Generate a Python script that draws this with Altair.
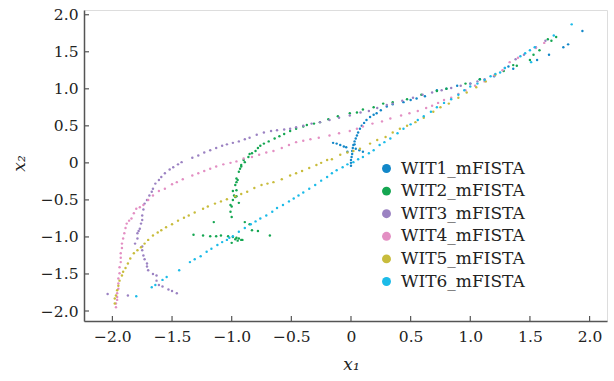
import altair as alt
import pandas as pd

SERIES = ["WIT1_mFISTA", "WIT2_mFISTA", "WIT3_mFISTA", "WIT4_mFISTA", "WIT5_mFISTA", "WIT6_mFISTA"]
COLORS = ["#1287c8", "#14a651", "#9b82c2", "#e38fc3", "#c8bc3c", "#1cbbe8"]

WIT1 = [(0.0, -0.04), (0.0, 0.0), (0.0, 0.04), (0.005, 0.08), (0.01, 0.12), (0.01, 0.16),
        (0.015, 0.2), (0.02, 0.24), (0.03, 0.29), (0.04, 0.33), (0.05, 0.37), (0.06, 0.41),
        (0.075, 0.46), (0.09, 0.5), (0.11, 0.54), (0.13, 0.58), (0.16, 0.62), (0.19, 0.65),
        (0.215, 0.67), (0.25, 0.71), (0.3, 0.76), (0.35, 0.79), (0.44, 0.82), (0.5, 0.85),
        (0.55, 0.87), (0.62, 0.9), (0.72, 0.98), (0.8, 1.0), (0.89, 1.04), (1.0, 1.07),
        (1.08, 1.13), (1.2, 1.17), (1.32, 1.3), (1.36, 1.27), (1.56, 1.39), (1.66, 1.46),
        (1.78, 1.56), (1.82, 1.6), (1.94, 1.78),
        (-0.15, 0.27), (-0.12, 0.26), (-0.09, 0.24), (-0.06, 0.22), (-0.04, 0.21),
        (0.04, 0.19), (0.07, 0.17), (0.1, 0.15), (-0.03, 0.15), (0.03, 0.25)]

WIT2 = [(-1.32, -0.97), (-1.24, -0.98), (-1.18, -0.99), (-1.13, -0.99), (-1.09, -0.98),
        (-1.03, -0.99), (-0.99, -1.0), (-0.96, -1.01), (-0.94, -1.02), (-0.92, -1.04),
        (-0.97, -1.03), (-0.95, -1.05), (-1.0, -1.08), (-0.91, -1.04), (-0.83, -0.91),
        (-0.78, -0.92), (-0.68, -0.98), (-0.89, -0.8), (-0.85, -0.83), (-1.15, -0.8),
        (-1.0, -0.73), (-1.01, -0.66), (-1.0, -0.59), (-1.01, -0.57), (-0.94, -0.54),
        (-0.99, -0.5), (-0.97, -0.46), (-0.98, -0.44), (-0.96, -0.45), (-0.99, -0.38),
        (-0.96, -0.37), (-0.97, -0.3), (-0.96, -0.26), (-0.95, -0.23), (-0.96, -0.21),
        (-0.94, -0.12), (-0.93, -0.08), (-0.92, -0.05), (-0.92, -0.03), (-0.89, 0.01),
        (-0.9, 0.04), (-0.86, 0.08), (-0.85, 0.12), (-0.83, 0.13), (-0.8, 0.16),
        (-0.78, 0.2), (-0.76, 0.23), (-0.73, 0.26), (-0.69, 0.29), (-0.64, 0.33),
        (-0.6, 0.36), (-0.56, 0.39), (-0.51, 0.43), (-0.46, 0.46), (-0.4, 0.49),
        (-0.37, 0.51), (-0.31, 0.53), (-0.26, 0.55), (-0.19, 0.59), (-0.11, 0.63),
        (-0.01, 0.67), (0.05, 0.68), (0.1, 0.72), (0.19, 0.75), (0.27, 0.8), (0.35, 0.82),
        (0.47, 0.86), (0.59, 0.92), (0.72, 0.97), (0.8, 1.0), (0.96, 1.07), (1.08, 1.13),
        (1.28, 1.24), (1.36, 1.32), (1.39, 1.31), (1.5, 1.39), (1.53, 1.46), (1.58, 1.52),
        (1.65, 1.67), (1.68, 1.65), (1.72, 1.7)]

WIT3 = [(-2.04, -1.77), (-1.87, -1.79), (-1.46, -1.76), (-1.5, -1.73), (-1.53, -1.71),
        (-1.58, -1.67), (-1.61, -1.65), (-1.63, -1.59), (-1.63, -1.52), (-1.66, -1.5),
        (-1.7, -1.45), (-1.71, -1.4), (-1.71, -1.36), (-1.73, -1.3), (-1.74, -1.25),
        (-1.75, -1.18), (-1.75, -1.13), (-1.81, -1.09), (-1.79, -1.02), (-1.79, -0.95),
        (-1.78, -0.92), (-1.77, -0.89), (-1.76, -0.82), (-1.75, -0.77), (-1.75, -0.71),
        (-1.74, -0.63), (-1.73, -0.55), (-1.71, -0.5), (-1.69, -0.44), (-1.67, -0.39),
        (-1.66, -0.35), (-1.64, -0.28), (-1.61, -0.23), (-1.59, -0.19), (-1.56, -0.14),
        (-1.52, -0.09), (-1.49, -0.06), (-1.45, -0.02), (-1.42, 0.01), (-1.33, 0.07),
        (-1.28, 0.1), (-1.23, 0.14), (-1.18, 0.17), (-1.13, 0.2), (-1.08, 0.23),
        (-1.04, 0.25), (-0.99, 0.27), (-0.94, 0.29), (-0.89, 0.32), (-0.85, 0.34),
        (-0.79, 0.38), (-0.73, 0.41), (-0.67, 0.43), (-0.62, 0.44), (-0.56, 0.45),
        (-0.51, 0.46), (-0.46, 0.48), (-0.4, 0.5), (-0.33, 0.53), (-0.26, 0.55),
        (-0.18, 0.58), (-0.1, 0.61), (-0.01, 0.64), (0.08, 0.68), (0.15, 0.7),
        (0.22, 0.74), (0.3, 0.78), (0.35, 0.8), (0.43, 0.84), (0.52, 0.88), (0.6, 0.92),
        (0.68, 0.95), (0.76, 0.98), (0.84, 1.01), (0.92, 1.04), (1.0, 1.07), (1.06, 1.1),
        (1.12, 1.13), (1.29, 1.28), (1.38, 1.4), (1.45, 1.46), (1.55, 1.56), (1.63, 1.65)]

WIT4 = [(-1.97, -1.95), (-1.97, -1.9), (-1.96, -1.85), (-1.96, -1.81), (-1.96, -1.76),
        (-1.95, -1.7), (-1.95, -1.63), (-1.95, -1.56), (-1.94, -1.49), (-1.94, -1.41),
        (-1.93, -1.34), (-1.93, -1.28), (-1.93, -1.22), (-1.92, -1.15), (-1.92, -1.09),
        (-1.91, -1.02), (-1.9, -0.95), (-1.89, -0.88), (-1.88, -0.82), (-1.86, -0.78),
        (-1.84, -0.75), (-1.82, -0.68), (-1.8, -0.62), (-1.77, -0.6), (-1.74, -0.57),
        (-1.7, -0.5), (-1.66, -0.44), (-1.61, -0.38), (-1.56, -0.35), (-1.5, -0.29),
        (-1.46, -0.26), (-1.41, -0.22), (-1.33, -0.17), (-1.28, -0.14), (-1.23, -0.11),
        (-1.18, -0.08), (-1.13, -0.05), (-1.07, -0.02), (-1.01, 0.0), (-0.96, 0.02),
        (-0.9, 0.06), (-0.83, 0.08), (-0.77, 0.11), (-0.71, 0.14), (-0.65, 0.16),
        (-0.58, 0.2), (-0.52, 0.24), (-0.46, 0.28), (-0.4, 0.3), (-0.34, 0.32),
        (-0.27, 0.34), (-0.18, 0.37), (-0.1, 0.4), (-0.01, 0.43), (0.05, 0.46),
        (0.1, 0.49), (0.18, 0.53), (0.26, 0.56), (0.33, 0.6), (0.42, 0.64), (0.49, 0.67),
        (0.56, 0.7), (0.63, 0.74), (0.68, 0.77), (0.73, 0.81), (0.78, 0.85), (0.84, 0.88),
        (0.9, 0.93), (0.96, 0.98), (1.04, 1.04), (1.12, 1.1), (1.2, 1.18), (1.27, 1.25),
        (1.33, 1.36), (1.4, 1.42), (1.55, 1.55), (1.62, 1.62)]

WIT5 = [(-1.98, -1.9), (-1.98, -1.83), (-1.97, -1.79), (-1.96, -1.72), (-1.95, -1.66),
        (-1.94, -1.59), (-1.92, -1.52), (-1.91, -1.47), (-1.89, -1.42), (-1.87, -1.36),
        (-1.85, -1.29), (-1.82, -1.22), (-1.79, -1.18), (-1.76, -1.14), (-1.73, -1.09),
        (-1.7, -1.04), (-1.66, -0.98), (-1.62, -0.94), (-1.59, -0.91), (-1.55, -0.87),
        (-1.5, -0.83), (-1.45, -0.78), (-1.4, -0.74), (-1.36, -0.71), (-1.31, -0.67),
        (-1.24, -0.62), (-1.2, -0.59), (-1.14, -0.55), (-1.09, -0.52), (-1.04, -0.49),
        (-0.97, -0.45), (-0.92, -0.42), (-0.87, -0.39), (-0.81, -0.34), (-0.75, -0.3),
        (-0.7, -0.28), (-0.65, -0.26), (-0.58, -0.22), (-0.51, -0.17), (-0.46, -0.14),
        (-0.41, -0.11), (-0.35, -0.07), (-0.29, -0.03), (-0.25, 0.0), (-0.2, 0.04),
        (-0.16, 0.05), (-0.09, 0.11), (-0.03, 0.14), (0.02, 0.16), (0.075, 0.19),
        (0.16, 0.26), (0.22, 0.31), (0.29, 0.35), (0.35, 0.41), (0.41, 0.46), (0.47, 0.5),
        (0.54, 0.55), (0.61, 0.61), (0.69, 0.69), (0.75, 0.75), (0.82, 0.8), (0.9, 0.88),
        (0.97, 0.95), (1.05, 1.02), (1.13, 1.1), (1.21, 1.19)]

WIT6 = [(-1.8, -1.8), (-1.67, -1.68), (-1.64, -1.65), (-1.58, -1.58), (-1.545, -1.54),
        (-1.44, -1.45), (-1.35, -1.34), (-1.31, -1.3), (-1.26, -1.26), (-1.21, -1.2),
        (-1.17, -1.16), (-1.12, -1.11), (-1.08, -1.07), (-1.04, -1.04), (-1.02, -1.01),
        (-0.99, -0.99), (-0.94, -0.93), (-0.89, -0.88), (-0.84, -0.83), (-0.8, -0.79),
        (-0.76, -0.75), (-0.71, -0.71), (-0.66, -0.66), (-0.62, -0.61), (-0.57, -0.57),
        (-0.52, -0.52), (-0.48, -0.48), (-0.44, -0.44), (-0.4, -0.4), (-0.35, -0.35),
        (-0.3, -0.3), (-0.25, -0.24), (-0.2, -0.19), (-0.16, -0.14), (-0.12, -0.1),
        (-0.07, -0.06), (-0.03, -0.02), (0.02, 0.01), (0.06, 0.05), (0.1, 0.08),
        (0.15, 0.13), (0.19, 0.17), (0.24, 0.24), (0.28, 0.28), (0.33, 0.33), (0.39, 0.4),
        (0.44, 0.46), (0.5, 0.52), (0.56, 0.58), (0.61, 0.63), (0.67, 0.69), (0.72, 0.75),
        (0.78, 0.81), (0.84, 0.86), (0.9, 0.92), (0.95, 0.98), (1.0, 1.03), (1.06, 1.07),
        (1.12, 1.12), (1.17, 1.17), (1.21, 1.2), (1.25, 1.22), (1.29, 1.28), (1.42, 1.44),
        (1.46, 1.48), (1.5, 1.52), (1.51, 1.36), (1.54, 1.56), (1.7, 1.72), (1.85, 1.87)]

X_TICKS = [-2.0, -1.5, -1.0, -0.5, 0.0, 0.5, 1.0, 1.5, 2.0]
Y_TICKS = [-2.0, -1.5, -1.0, -0.5, 0.0, 0.5, 1.0, 1.5, 2.0]
X_DOMAIN = [-2.238, 2.146]
Y_DOMAIN = [-2.135, 2.064]

rows = []
for name, pts in zip(SERIES, [WIT1, WIT2, WIT3, WIT4, WIT5, WIT6]):
    for px, py in pts:
        rows.append({"series": name, "x": px, "y": py})
df = pd.DataFrame(rows)
ticks_x = pd.DataFrame({"x": X_TICKS})
ticks_y = pd.DataFrame({"y": Y_TICKS})

FONT = "DejaVu Serif"
W, H = 523, 311
xs = alt.Scale(domain=X_DOMAIN, nice=False, zero=False)
ys = alt.Scale(domain=Y_DOMAIN, nice=False, zero=False)
label_expr = "datum.value == 0 ? '0' : format(datum.value, '.1f')"

x_axis = alt.Axis(values=X_TICKS, title="x₁", titleX=267, titleY=48,
                  titleAlign="center", titleBaseline="alphabetic",
                  labelExpr=label_expr, labelPadding=8)
y_axis = alt.Axis(values=Y_TICKS, title="x₂", titleX=-60, titleY=153, titleAngle=270,
                  titleAlign="center", titleBaseline="alphabetic",
                  labelExpr=label_expr, labelPadding=6)

points = alt.Chart(df).mark_circle(size=6, opacity=1).encode(
    x=alt.X("x:Q", scale=xs, axis=x_axis),
    y=alt.Y("y:Q", scale=ys, axis=y_axis),
    color=alt.Color("series:N", scale=alt.Scale(domain=SERIES, range=COLORS),
                    legend=alt.Legend(title=None, orient="none", legendX=294, legendY=150,
                                      symbolType="circle", symbolSize=80, symbolStrokeWidth=0,
                                      rowPadding=4.6, labelOffset=6, padding=0)),
)

xt = alt.Chart(ticks_x).mark_rule(color="#555", strokeWidth=1.2).encode(
    x=alt.X("x:Q", scale=xs, axis=x_axis), y=alt.value(H), y2=alt.value(H - 5))
yt = alt.Chart(ticks_y).mark_rule(color="#555", strokeWidth=1.2).encode(
    y=alt.Y("y:Q", scale=ys, axis=y_axis), x=alt.value(0), x2=alt.value(5))

chart = alt.layer(points, xt, yt).properties(
    width=W, height=H,
    autosize=alt.AutoSizeParams(type="none"),
    padding={"left": 84, "top": 10, "right": 7, "bottom": 60},
).configure_view(stroke=None).configure(background="white", font=FONT).configure_axis(
    labelFont=FONT, labelFontSize=15.5, labelColor="#222",
    titleFont=FONT, titleFontSize=17, titleFontStyle="italic", titleFontWeight="normal",
    titleColor="#222", ticks=False, grid=False, domainColor="#555", domainWidth=1.5,
).configure_legend(labelFont=FONT, labelFontSize=17, labelColor="#222")

chart.save("out.html", embed_options={"renderer": "svg", "actions": False})
